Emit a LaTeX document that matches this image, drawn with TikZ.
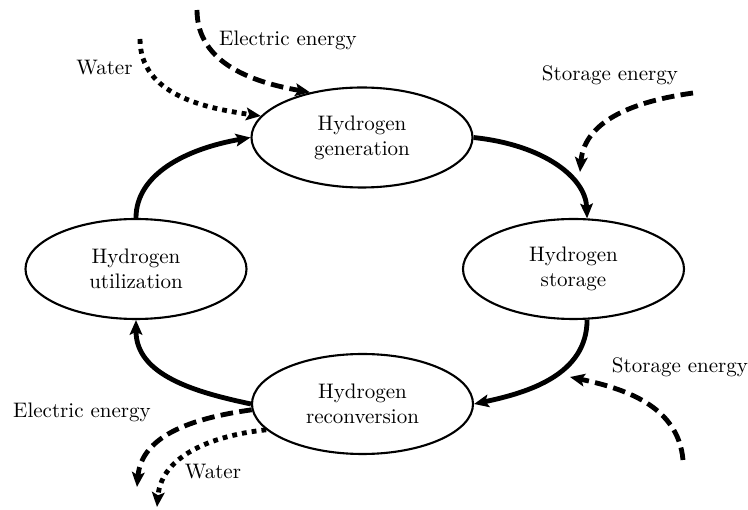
\documentclass[tikz,border=0pt]{standalone}
\usetikzlibrary{shapes.geometric,arrows.meta}
\begin{document}
\begin{tikzpicture}[x=0.476pt,y=0.476pt]
\tikzset{
 proc/.style={ellipse, draw, line width=1pt, minimum width=105.2pt, minimum height=47.6pt, inner sep=0pt, align=center},
 flow/.style={line width=2.3pt, -{Stealth[length=7pt,width=6pt,inset=1.4pt]}},
 dashedflow/.style={flow, dash pattern=on 6pt off 3pt},
 dottedflow/.style={flow, dash pattern=on 2.3pt off 2.4pt},
 lbl/.style={inner sep=0pt}
}
\useasboundingbox (0,0) rectangle (748,-510);
% processes
\node[proc] (gen)  at (362,-137.5) {Hydrogen\\generation};
\node[proc] (stor) at (573.5,-269) {Hydrogen\\storage};
\node[proc] (util) at (136,-269) {Hydrogen\\utilization};
\node[proc] (rec)  at (362.5,-404) {Hydrogen\\reconversion};
% labels
\node[lbl] (lee1) at (288,-40) {Electric energy};
\node[lbl] (lw1)  at (104.5,-68) {Water};
\node[lbl] (lse1) at (610,-75) {Storage energy};
\node[lbl] (lse2) at (680,-367) {Storage energy};
\node[lbl] (lee2) at (82,-412) {Electric energy};
\node[lbl] (lw2)  at (213,-472) {Water};
% free ends
\coordinate (ee1) at (197,-10);
\coordinate (w1) at (140,-39);
\coordinate (se1s) at (693,-93);
\coordinate (se1) at (580,-172);
\coordinate (se2s) at (683,-460);
\coordinate (se2) at (570,-377);
\coordinate (ee2) at (137,-487);
\coordinate (w2) at (157,-507);
% main cycle
\draw[flow] (gen.east) to[out=-6, in=92, out looseness=1.3, in looseness=0.75] (stor.75);
\draw[flow] (stor.-75) to[out=-90, in=12] (rec.east);
\draw[flow] (rec.west) to[out=168, in=-90] (util.south);
\draw[flow] (util.north) to[out=90, in=190, out looseness=0.8, in looseness=1.2] (gen.west);
% inputs / outputs
\draw[dashedflow] (ee1) to[out=-90, in=170] (gen.139);
\draw[dottedflow] (w1) to[out=-90, in=172] (gen.168);
\draw[dashedflow] (se1s) to[out=188, in=85] (se1);
\draw[dashedflow] (se2s) to[out=95, in=-12] (se2);
\draw[dashedflow] (rec.183) to[out=188, in=85] (ee2);
\draw[dottedflow] (rec.195) to[out=186, in=85] (w2);
\end{tikzpicture}
\end{document}
